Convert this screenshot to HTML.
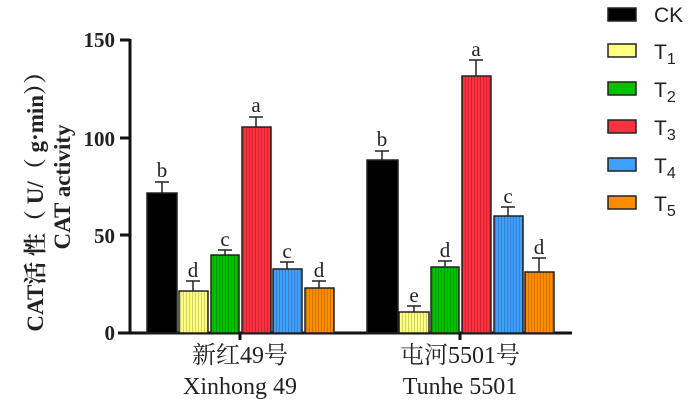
<!DOCTYPE html>
<html><head><meta charset="utf-8"><style>body{margin:0;background:#fff}svg{display:block}</style></head><body>
<svg width="700" height="401" viewBox="0 0 700 401" xmlns="http://www.w3.org/2000/svg">
<defs>
<pattern id="s" width="3" height="10" patternUnits="userSpaceOnUse"><rect width="1" height="10" fill="rgba(0,0,0,0.18)"/></pattern>
</defs>
<g font-family="Liberation Serif, serif" font-weight="bold" font-size="21" text-anchor="end" fill="#222">
<text x="115" y="47">150</text><text x="115" y="146">100</text><text x="115" y="243">50</text><text x="115" y="340">0</text>
</g>
<g stroke="#111" stroke-width="3" fill="none">
<line x1="130" y1="39" x2="130" y2="334"/><line x1="118" y1="333" x2="572" y2="333"/>
<line x1="120" y1="40" x2="130" y2="40"/><line x1="120" y1="138" x2="130" y2="138"/><line x1="120" y1="235" x2="130" y2="235"/>
<line x1="240" y1="333" x2="240" y2="340"/><line x1="460" y1="333" x2="460" y2="340"/>
</g>
<g stroke="#222" stroke-width="1.5">
<rect x="147" y="193" width="30" height="140" fill="#000"/>
<rect x="179" y="291" width="29" height="42" fill="#ffff80"/><rect x="179" y="291" width="29" height="42" fill="url(#s)" stroke="none"/>
<rect x="211" y="255" width="28" height="78" fill="#00c000"/><rect x="211" y="255" width="28" height="78" fill="url(#s)" stroke="none"/>
<rect x="242" y="127" width="29" height="206" fill="#ff3040"/><rect x="242" y="127" width="29" height="206" fill="url(#s)" stroke="none"/>
<rect x="273" y="269" width="29" height="64" fill="#40a0ff"/><rect x="273" y="269" width="29" height="64" fill="url(#s)" stroke="none"/>
<rect x="305" y="288" width="29" height="45" fill="#ff8c00"/><rect x="305" y="288" width="29" height="45" fill="url(#s)" stroke="none"/>
<rect x="367" y="160" width="31" height="173" fill="#000"/>
<rect x="399" y="312" width="30" height="21" fill="#ffff80"/><rect x="399" y="312" width="30" height="21" fill="url(#s)" stroke="none"/>
<rect x="431" y="267" width="28" height="66" fill="#00c000"/><rect x="431" y="267" width="28" height="66" fill="url(#s)" stroke="none"/>
<rect x="462" y="76" width="29" height="257" fill="#ff3040"/><rect x="462" y="76" width="29" height="257" fill="url(#s)" stroke="none"/>
<rect x="494" y="216" width="29" height="117" fill="#40a0ff"/><rect x="494" y="216" width="29" height="117" fill="url(#s)" stroke="none"/>
<rect x="525" y="272" width="29" height="61" fill="#ff8c00"/><rect x="525" y="272" width="29" height="61" fill="url(#s)" stroke="none"/>
</g>
<g stroke="#222" stroke-width="1.5" fill="none">
<path d="M162 193V182M155 182H169"/><path d="M193 291V281M186 281H200"/><path d="M225 255V250M218 250H232"/>
<path d="M256 127V117M249 117H263"/><path d="M287 269V262M280 262H294"/><path d="M319 288V281M312 281H326"/>
<path d="M382 160V151M375 151H389"/><path d="M414 312V306M407 306H421"/><path d="M445 267V261M438 261H452"/>
<path d="M476 76V60M469 60H483"/><path d="M508 216V207M501 207H515"/><path d="M539 272V258M532 258H546"/>
</g>
<g font-family="Liberation Serif, serif" font-size="21" text-anchor="middle" fill="#222">
<text x="162" y="177">b</text><text x="193" y="277">d</text><text x="225" y="246">c</text><text x="256" y="112">a</text><text x="287" y="258">c</text><text x="319" y="277">d</text>
<text x="382" y="146">b</text><text x="414" y="302">e</text><text x="445" y="257">d</text><text x="476" y="56">a</text><text x="508" y="203">c</text><text x="539" y="254">d</text>
</g>
<g font-family="Liberation Serif, 'Noto Serif CJK SC', serif" font-size="24" text-anchor="middle" fill="#222">
<text x="240" y="363">新红49号</text><text x="240" y="394">Xinhong 49</text>
<text x="460" y="363">屯河5501号</text><text x="460" y="394">Tunhe 5501</text>
</g>
<g font-family="Liberation Serif, 'Noto Serif CJK SC', serif" font-weight="bold" font-size="23" text-anchor="middle" fill="#222">
<text transform="translate(43,196) rotate(-90)">CAT活 性（ U/（ g·min））</text>
<text transform="translate(70,187) rotate(-90)">CAT activity</text>
</g>
<g stroke="#222" stroke-width="1.5">
<rect x="608" y="8" width="28" height="13" fill="#000"/>
<rect x="608" y="44" width="28" height="13" fill="#ffff80"/>
<rect x="608" y="82" width="28" height="13" fill="#00c000"/>
<rect x="608" y="120" width="28" height="13" fill="#ff3040"/>
<rect x="608" y="158" width="28" height="13" fill="#40a0ff"/>
<rect x="608" y="196" width="28" height="13" fill="#ff8c00"/>
</g>
<g font-family="Liberation Sans, sans-serif" font-size="21" fill="#222">
<text x="654" y="22">CK</text>
<text x="654" y="59">T<tspan font-size="16" dy="5">1</tspan></text>
<text x="654" y="97">T<tspan font-size="16" dy="5">2</tspan></text>
<text x="654" y="135">T<tspan font-size="16" dy="5">3</tspan></text>
<text x="654" y="173">T<tspan font-size="16" dy="5">4</tspan></text>
<text x="654" y="211">T<tspan font-size="16" dy="5">5</tspan></text>
</g>
</svg>
</body></html>
